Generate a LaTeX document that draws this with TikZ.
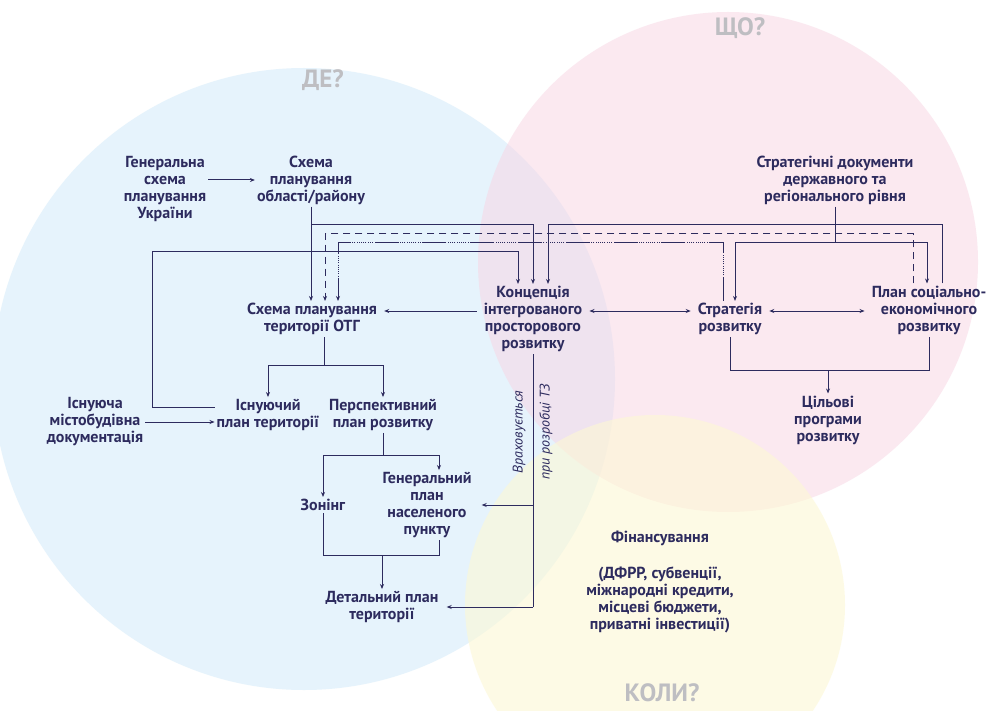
\documentclass[tikz,border=0pt]{standalone}
\usepackage{fontspec}
\setmainfont{PT Sans}
\usepackage{tikz}
\usetikzlibrary{arrows.meta, calc}
\definecolor{ink}{RGB}{45,43,94}
\definecolor{deblue}{RGB}{214,236,250}
\definecolor{shchopink}{RGB}{248,212,227}
\definecolor{kolyyellow}{RGB}{253,248,212}
\definecolor{qgray}{RGB}{190,190,194}

\begin{document}
\begin{tikzpicture}[x=1pt, y=-1pt,
		txt/.style={align=center, inner sep=2pt, text=ink, font=\bfseries\fontsize{16}{17}\selectfont},
		qlbl/.style={text=qgray, font=\bfseries\fontsize{25}{27}\selectfont},
		note/.style={text=ink, font=\itshape\fontsize{14}{15}\selectfont, rotate=90},
		wire/.style={draw=ink, line width=1pt},
		dotline/.style={dash pattern=on 24pt off 1.5pt on 1pt off 1.2pt on 1pt off 1.2pt on 1pt off 1.2pt on 1pt off 1.2pt on 1pt off 1.2pt on 1pt off 1.2pt on 1pt off 1.2pt on 1pt off 1.2pt on 1pt off 1.2pt on 1pt off 1.5pt},
		gap/.style={shorten <=5pt, shorten >=5pt},
		>={Stealth[length=5pt, width=4pt]}]
		\useasboundingbox (0,0) rectangle (995,711);
		\clip (0,0) rectangle (995,711);
		\fill[white] (0,0) rectangle (995,711);
		
		% circles
		\fill[deblue, fill opacity=0.6] (304,379) circle (311);
		\fill[shchopink, fill opacity=0.5] (728,262) circle (250);
		\fill[kolyyellow, fill opacity=0.6] (655,605) circle (190);
		
		\draw (323,80) node[qlbl] (de){ДЕ?}
		(740,28) node[qlbl] (shcho){ЩО?}
		(662,693) node[qlbl] (koly){КОЛИ?};
		
		\draw (165,189) node[txt] (gsu){Генеральна\\схема\\планування\\України}
		(311,180) node[txt] (spo){Схема\\планування\\області/району}
		(835,180) node[txt] (sdr){Стратегічні документи\\державного та\\регіонального рівня}
		(312,319) node[txt] (otg){Схема планування\\території ОТГ}
		(533,319) node[txt] (kip){Концепція\\інтегрованого\\просторового\\розвитку}
		(730,319) node[txt] (str){Стратегія\\розвитку}
		(929,310) node[txt] (pser){План соціально-\\економічного\\розвитку}
		(95,422) node[txt] (imd){Існуюча\\містобудівна\\документація}
		(268,415) node[txt] (ipt){Існуючий\\план території}
		(383,415) node[txt] (ppr){Перспективний\\план розвитку}
		(828,420) node[txt] (cpr){Цільові\\програми\\розвитку}
		(323,505) node[txt] (zon){Зонінг}
		(427,505) node[txt] (gpn){Генеральний\\план\\населеного\\пункту}
		(382,607) node[txt] (dpt){Детальний план\\території}
		(660,538) node[txt] (fin){Фінансування}
		(660,600) node[txt] (fsrc){(ДФРР, субвенції,\\міжнародні кредити,\\місцеві бюджети,\\приватні інвестиції)};
		
		\draw[wire,->] (gsu.east |- spo.west) -- (spo.west);
		\draw[wire,->] (spo.south) -- (spo.south |- otg.north);
		\draw[wire,->] (spo.south |- 0,225) -| (kip.north);
		\draw[wire,->] ([xshift=13pt]pser.north) |- ([xshift=15pt]kip.north |- 0,225) -- ([xshift=15pt]kip.north);
		\draw[wire,->,dash pattern=on 7pt off 5pt] ([xshift=-16pt]pser.north) |- ([xshift=13pt]otg.north |- 0,234) -- ([xshift=13pt]otg.north);
		\draw[wire,->,dotline] ([xshift=-7pt]str.north) |- ([xshift=26pt]otg.north |- 0,243) -- ([xshift=26pt]otg.north);
		\draw[wire] (sdr.south) -- (sdr.south |- 0,243);
		\draw[wire,<->] ([xshift=5pt]str.north) |- ([xshift=-2pt]pser.north |- 0,243) -- ([xshift=-2pt]pser.north);
		\draw[wire,->] ([yshift=8pt]ipt.west) -| (152,252) -| ([xshift=-15pt]kip.north);
		
		\draw[wire,gap,->] (kip.west |- 0,311) -- (otg.east |- 0,311);
		\draw[wire,gap,<->] (kip.east |- 0,311) -- (str.west |- 0,311);
		\draw[wire,gap,<->] (str.east |- 0,311) -- (pser.west |- 0,311);
		
		\draw[wire] ([xshift=12pt]otg.south) -- ([xshift=12pt]otg.south |- 0,365);
		\draw[wire,<->] (ipt.north) |- (ppr.north |- 0,365) -- (ppr.north);
		\draw[wire,->] (imd.east) -- (imd.east -| ipt.west);
		\draw[wire] (ppr.south) -- (ppr.south |- 0,455);
		\draw[wire,<->] (zon.north) |- ([xshift=12pt]gpn.north |- 0,455) -- ([xshift=12pt]gpn.north);
		\draw[wire] (zon.south) |- ([xshift=12pt]gpn.south |- 0,555) -- ([xshift=12pt]gpn.south);
		\draw[wire,->] (dpt.north |- 0,555) -- (dpt.north);
		
		\draw[wire] (kip.south) -- (kip.south |- dpt.east);
		\draw[wire,->,shorten >=8pt] (kip.south |- gpn.east) -- (gpn.east);
		\draw[wire,->,shorten >=6pt] (kip.south |- dpt.east) -- (dpt.east);
		\node[note] (vr1) at (519,432) {Враховується};
		\node[note] (vr2) at (546,432) {при розробці ТЗ};
		
		\draw[wire] (str.south) |- (pser.south |- 0,370) -- (pser.south);
		\draw[wire,->] (cpr.north |- 0,370) -- (cpr.north);
	\end{tikzpicture}
\end{document}
